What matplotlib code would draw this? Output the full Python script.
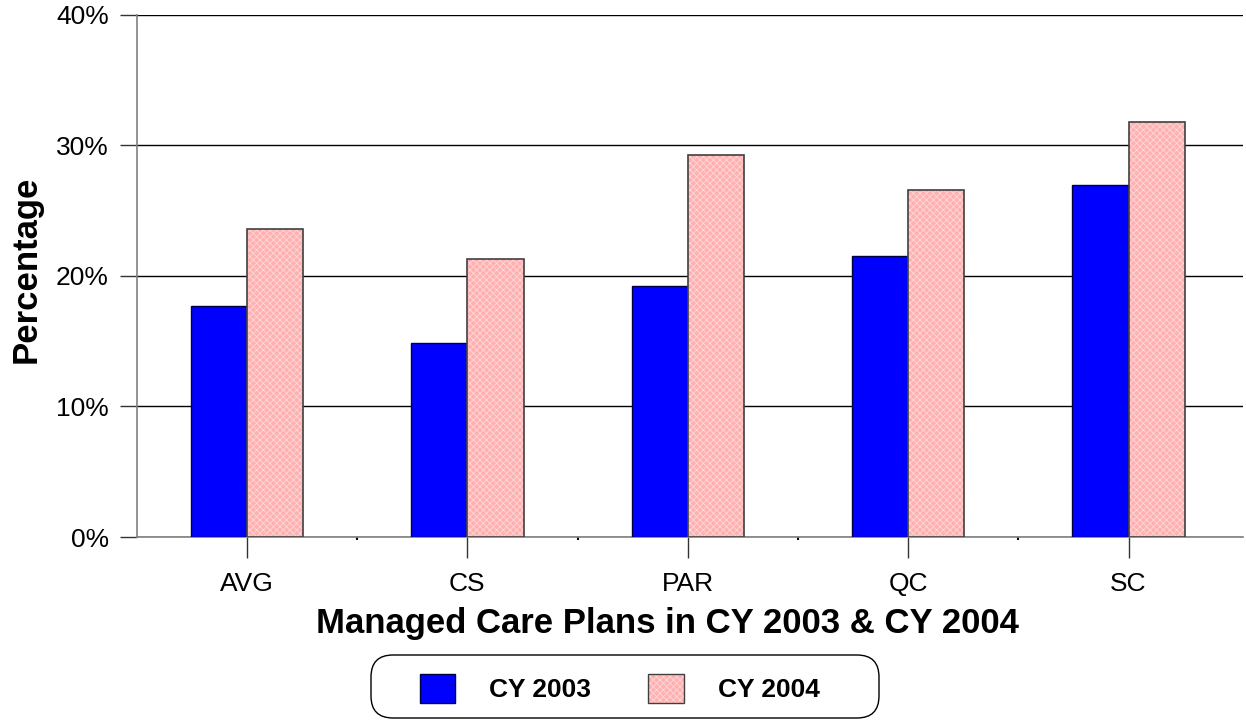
import matplotlib.pyplot as plt
import numpy as np
from matplotlib.patches import Patch, FancyBboxPatch
from matplotlib.ticker import FixedLocator, PercentFormatter

plans = ["AVG", "CS", "PAR", "QC", "SC"]
cy2003 = [17.7, 14.9, 19.2, 21.5, 27.0]
cy2004 = [23.6, 21.3, 29.3, 26.6, 31.8]

plt.rcParams['font.family'] = ['Liberation Sans', 'DejaVu Sans']
plt.rcParams['hatch.linewidth'] = 0.6

fig = plt.figure(figsize=(12.46, 7.21), dpi=100)
ax = fig.add_axes([0.1097, 0.2552, 0.888, 0.724])

x = np.arange(len(plans))
w = 0.255
pink = '#FFB0B0'
hatch_col = '#FFD8D8'

ax.bar(x - w / 2, cy2003, w, color='#0000FF', edgecolor='#000040', linewidth=1, zorder=3)
ax.bar(x + w / 2, cy2004, w, color=pink, edgecolor=hatch_col, hatch='xxxxx', linewidth=0, zorder=3)
ax.bar(x + w / 2, cy2004, w, fill=False, edgecolor='#404040', linewidth=1.2, zorder=4)

ax.set_xlim(-0.5, 4.52)
ax.set_ylim(0, 40)
ax.set_yticks([0, 10, 20, 30, 40])
ax.yaxis.set_major_formatter(PercentFormatter(decimals=0))
ax.set_xticks(x)
ax.set_xticklabels(plans)
ax.xaxis.set_minor_locator(FixedLocator(x[:-1] + 0.5))
ax.tick_params(axis='x', which='major', length=15, width=1, color='#333333', pad=10, labelsize=19)
ax.tick_params(axis='x', which='minor', length=2, width=1.5, color='black')
ax.tick_params(axis='y', length=12, width=1, color='#333333', pad=8, labelsize=19)

ax.grid(axis='y', color='black', linewidth=1, zorder=0)
ax.set_axisbelow(True)
for s in ['top', 'right']:
    ax.spines[s].set_visible(False)
for s in ['left', 'bottom']:
    ax.spines[s].set_color('#808080')
    ax.spines[s].set_linewidth(1.2)

ax.set_xlabel('Managed Care Plans in CY 2003 & CY 2004', fontsize=25, fontweight='bold', labelpad=8)
ax.set_ylabel('Percentage', fontsize=25, fontweight='bold', labelpad=10)
ax.xaxis.label.set_x(0.4795)
ax.yaxis.label.set_y(0.513)

# rounded legend frame
frame = FancyBboxPatch((3.71, 0.03), 5.08, 0.63, boxstyle='round,pad=0,rounding_size=0.22',
                       transform=fig.dpi_scale_trans, facecolor='white', edgecolor='black',
                       linewidth=1, zorder=1)
fig.patches.append(frame)

h1 = Patch(facecolor='#0000FF', edgecolor='#000040', linewidth=1)
h2a = Patch(facecolor=pink, edgecolor=hatch_col, hatch='xxxxx', linewidth=0)
h2b = Patch(fill=False, edgecolor='#404040', linewidth=1)
leg = fig.legend([h1, (h2a, h2b)], ['CY 2003', 'CY 2004'], loc='center', bbox_to_anchor=(0.4975, 0.0451),
                 ncol=2, frameon=False, prop={'size': 19, 'weight': 'bold'},
                 handlelength=1.33, handleheight=1.33, handletextpad=1.29, columnspacing=2.16,
                 borderpad=0, borderaxespad=0)
leg.set_zorder(2)

fig.savefig('out.png', dpi=100)
